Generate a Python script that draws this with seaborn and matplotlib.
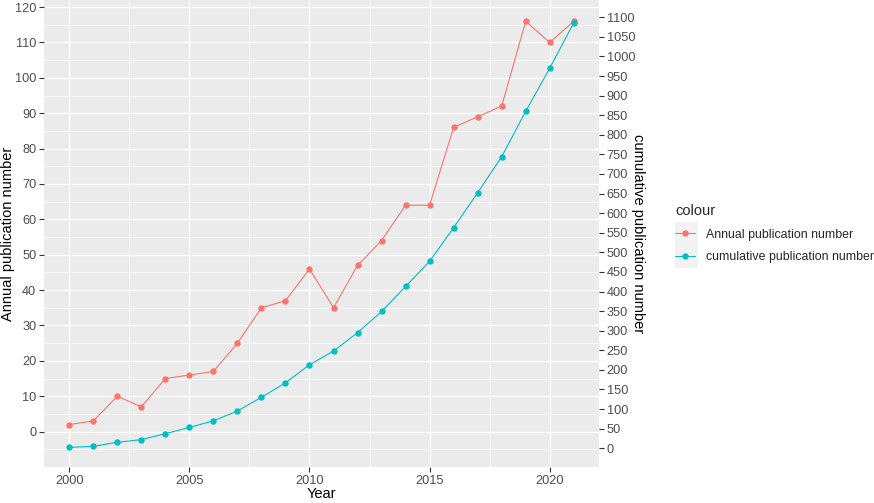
import matplotlib
matplotlib.use("Agg")
import matplotlib.pyplot as plt
from matplotlib.lines import Line2D
from matplotlib.patches import Rectangle
from matplotlib.ticker import FixedLocator
import numpy as np
import pandas as pd
import seaborn as sns

years = list(range(2000, 2022))
annual = [2, 3, 10, 7, 15, 16, 17, 25, 35, 37, 46, 35, 47, 54, 64, 64, 86, 89, 92, 116, 110, 116]
cumulative = [2, 5, 15, 22, 37, 53, 70, 95, 130, 167, 213, 248, 295, 349, 413, 477, 563, 652, 744, 860, 970, 1086]
left_ticks = list(range(0, 121, 10))
right_ticks = list(range(0, 1101, 50))
x_ticks = [2000, 2005, 2010, 2015, 2020]
labels = ["Annual publication number", "cumulative publication number"]

RED = "#F8766D"
BLUE = "#00BFC4"
SCALE, OFFSET = 9.03, 42.4   # secondary axis: right = SCALE*left + OFFSET

sns.set_theme(style="darkgrid", rc={
    "axes.facecolor": "#EBEBEB",
    "grid.color": "white",
    "axes.edgecolor": "none",
})
plt.rcParams["font.family"] = ["Liberation Sans", "DejaVu Sans"]

df = pd.DataFrame({"year": years, "annual": annual, "cumulative": cumulative})

fig = plt.figure(figsize=(8.74, 5.03), dpi=100)
W, H = 874, 503
ax = fig.add_axes([44 / W, (H - 467) / H, 555 / W, 467 / H])

ylo, yhi = -10, 122
ax.set_xlim(1998.95, 2022.05)
ax.set_ylim(ylo, yhi)

sns.lineplot(data=df, x="year", y="annual", ax=ax, color=RED, lw=0.8,
             marker="o", markersize=4.6, markeredgewidth=0, legend=False)

ax2 = ax.twinx()
ax2.set_ylim(ylo * SCALE + OFFSET, yhi * SCALE + OFFSET)
sns.lineplot(data=df, x="year", y="cumulative", ax=ax2, color=BLUE, lw=0.8,
             marker="o", markersize=4.6, markeredgewidth=0, legend=False)
ax2.grid(False)
ax2.set_facecolor("none")
for s in ax2.spines.values():
    s.set_visible(False)

ax.yaxis.set_major_locator(FixedLocator(left_ticks))
ax.yaxis.set_minor_locator(FixedLocator([-5] + [t + 5 for t in left_ticks[:-1]]))
ax.xaxis.set_major_locator(FixedLocator(x_ticks))
ax.xaxis.set_minor_locator(FixedLocator([2002.5, 2007.5, 2012.5, 2017.5]))
ax2.yaxis.set_major_locator(FixedLocator(right_ticks))
ax2.set_xlim(1998.95, 2022.05)

ax.grid(which="major", color="white", lw=1.0)
ax.grid(which="minor", color="white", lw=0.5)

tick_kw = dict(length=3.5, width=0.8, color="#333333", labelcolor="#4D4D4D",
               labelsize=9.2, pad=2)
ax.tick_params(axis="both", which="major", direction="out", **tick_kw)
ax.tick_params(axis="both", which="minor", length=0)
ax.tick_params(axis="x", bottom=True)
ax.tick_params(axis="y", left=True)
ax2.tick_params(axis="y", which="major", direction="out", right=True, **tick_kw)

ax.set_xlabel("Year", fontsize=10.5, color="black", labelpad=0)
ax.set_ylabel("Annual publication number", fontsize=10.5, color="black", labelpad=0)
ax2.set_ylabel("cumulative publication number", fontsize=10.5, color="black",
               rotation=270, labelpad=-3, va="bottom")

# legend (ggplot style)
handles = [Line2D([], [], color=c, lw=0.8, marker="o", markersize=4.6, markeredgewidth=0)
           for c in (RED, BLUE)]
leg = fig.legend(handles, labels, title="colour", loc="upper left",
                 bbox_to_anchor=(664 / W, 1 - 193 / H), frameon=False,
                 fontsize=8.9, title_fontsize=10.5, handlelength=1.6,
                 handletextpad=0.9, labelspacing=0.85, alignment="left")
fig.add_artist(Rectangle((675 / W, 1 - 268 / H), 23 / W, 46 / H,
                         transform=fig.transFigure, facecolor="#F2F2F2",
                         edgecolor="none", zorder=0))

fig.savefig("out.png", dpi=100)
